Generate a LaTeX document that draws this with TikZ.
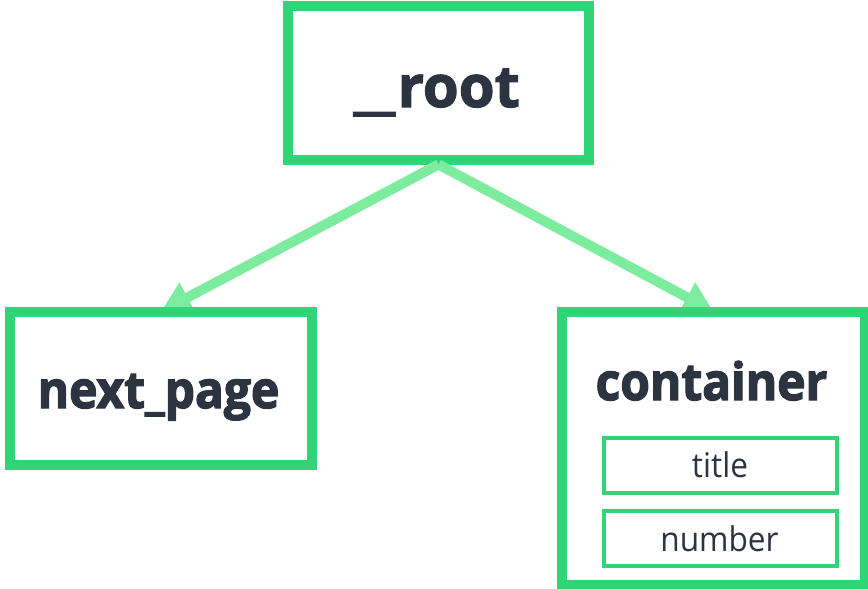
\documentclass[tikz,border=0pt]{standalone}
\usepackage{fontspec}
\setmainfont{Open Sans}
\newfontfamily\lblfont[FakeStretch=0.93,BoldFeatures={FakeBold=2.5}]{Open Sans}
\newfontfamily\rootfont[BoldFeatures={FakeBold=2}]{Open Sans}
\usetikzlibrary{arrows.meta}
\definecolor{boxgreen}{HTML}{2FD576}
\definecolor{arrgreen}{HTML}{7EEC9E}
\definecolor{ink}{HTML}{2C3441}
\begin{document}
\begin{tikzpicture}[x=1pt,y=-1pt,
  bigbox/.style={draw=boxgreen,line width=10pt,minimum width=301pt,inner sep=0pt},
  smallbox/.style={draw=boxgreen,line width=4pt,minimum width=233pt,inner sep=0pt},
  biglabel/.style={text=ink,font=\lblfont\fontsize{51.5}{56}\selectfont\bfseries,inner sep=0pt,anchor=base},
  rootlabel/.style={text=ink,font=\rootfont\fontsize{58}{62}\selectfont\bfseries,inner sep=0pt,anchor=base},
  smalllabel/.style={text=ink,font=\lblfont\fontsize{34}{38}\selectfont,inner sep=0pt,anchor=base},
  conn/.style={draw=arrgreen,line width=10pt,-{Triangle[length=30pt,width=32pt]}}]
\useasboundingbox (0,0) rectangle (868,589);
\node[bigbox,minimum height=153.5pt] (root) at (438.5,82.75) {};
\node[rootlabel] (rootlbl) at (437,107) {\scalebox{1.7}[1]{\_}\kern3pt root};
\draw[conn] (root.south) -- (161,311.5) coordinate (npt);
\draw[conn] (root.south) -- (713.5,311.5) coordinate (ctt);
\node[bigbox,minimum width=302pt,minimum height=153.5pt] (next) at (161,388.25) {};
\node[biglabel] (nextlbl) at (158.5,408) {next\_page};
\node[bigbox,minimum width=303pt,minimum height=273pt] (cont) at (713.5,448) {};
\node[biglabel] (contlbl) at (711.5,400) {container};
\node[smallbox,minimum height=54.5pt] (title) at (720.5,465.25) {};
\node[smalllabel] (titlelbl) at (720,477.5) {title};
\node[smallbox,minimum height=55pt] (number) at (720.5,538.5) {};
\node[smalllabel] (numberlbl) at (719.5,551) {number};
\end{tikzpicture}
\end{document}
